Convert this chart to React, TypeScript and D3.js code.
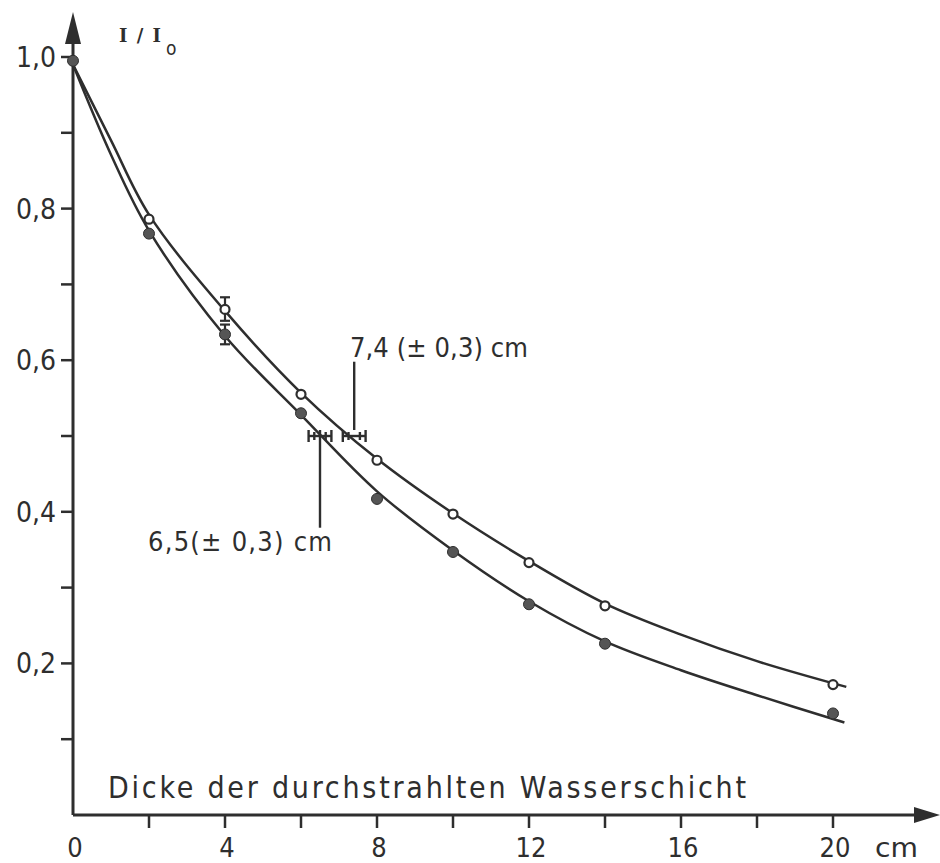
import React from 'react';
import * as d3 from 'd3';

// measured points (open = upper curve, filled = lower curve)
const openX = [2, 4, 6, 8, 10, 12, 14, 20];
const openY = [0.786, 0.667, 0.555, 0.468, 0.397, 0.333, 0.276, 0.172];
const filledX = [0, 2, 4, 6, 8, 10, 12, 14, 20];
const filledY = [0.995, 0.767, 0.634, 0.53, 0.417, 0.347, 0.278, 0.226, 0.134];

// drawn curves
const upperX = [0, 1, 2, 4, 6, 8, 10, 12, 14, 16, 18, 20.35];
const upperY = [0.99, 0.89, 0.792, 0.665, 0.557, 0.47, 0.398, 0.335, 0.279, 0.238, 0.203, 0.169];
const lowerX = [0, 1, 2, 4, 6, 8, 10, 12, 14, 16, 18, 20.3];
const lowerY = [0.99, 0.871, 0.771, 0.632, 0.528, 0.427, 0.349, 0.282, 0.229, 0.191, 0.158, 0.122];

// vertical error bars at x = 4
const vErrX = [4, 4];
const vErrLo = [0.652, 0.621];
const vErrHi = [0.683, 0.647];

// half-value thickness markers
const halfCenters = [6.5, 7.4];
const halfErr = [0.3, 0.3];
const halfLevel = 0.5;
const halfLabels = ['6,5(± 0,3) cm', '7,4 (± 0,3) cm'];
const halfLeaderTo = [0.379, 0.598];

const xTicks = [2, 4, 6, 8, 10, 12, 14, 16, 18, 20];
const xLabels = ['0', '4', '8', '12', '16', '20'];
const yTicks = [0.1, 0.2, 0.3, 0.4, 0.5, 0.6, 0.7, 0.8, 0.9, 1.0];
const yLabels = ['0,2', '0,4', '0,6', '0,8', '1,0'];

const INK = '#2e2e2e';
const FONT = "'DejaVu Sans Condensed', 'DejaVu Sans', sans-serif";

export default function App() {
  const x = d3.scaleLinear().domain([0, 20]).range([73, 833]);
  const y = d3.scaleLinear().domain([0, 1]).range([815, 57]);

  const line = d3.line<[number, number]>()
    .x(d => x(d[0]))
    .y(d => y(d[1]))
    .curve(d3.curveCatmullRom.alpha(0.5));

  const upper = line(upperX.map((v, i) => [v, upperY[i]]) as [number, number][]) || '';
  const lower = line(lowerX.map((v, i) => [v, lowerY[i]]) as [number, number][]) || '';

  const x0 = x(0);
  const y0 = y(0);

  return (
    <svg width={940} height={863} style={{ position: 'absolute', left: 0, top: 0, background: '#fff' }}
      fontFamily={FONT} fill={INK}>
      {/* axes */}
      <line x1={x0} y1={y0} x2={x0} y2={40} stroke={INK} strokeWidth={3} />
      <polygon points={`${x0},12 ${x0 - 8},44 ${x0 + 8},44`} fill={INK} />
      <line x1={x0} y1={y0} x2={918} y2={y0} stroke={INK} strokeWidth={3} />
      <polygon points={`940,${y0} 914,${y0 - 8} 914,${y0 + 8}`} fill={INK} />

      {yTicks.map(t => (
        <line key={'yt' + t} x1={x0 - 12} x2={x0} y1={y(t)} y2={y(t)} stroke={INK} strokeWidth={2.5} />
      ))}
      {yLabels.map((l, i) => (
        <text key={'yl' + l} x={56} y={y(0.2 * (i + 1)) + 10} textAnchor="end" fontSize={28}>{l}</text>
      ))}
      {xTicks.map(t => (
        <line key={'xt' + t} x1={x(t)} x2={x(t)} y1={y0} y2={y0 + 13} stroke={INK} strokeWidth={2.5} />
      ))}
      {xLabels.map(l => (
        <text key={'xl' + l} x={x(+l) + 2} y={857} textAnchor="middle" fontSize={27}>{l}</text>
      ))}
      <text x={875} y={857} fontSize={27} textLength={43} lengthAdjust="spacingAndGlyphs">cm</text>

      <text x={119} y={42} fontSize={18} fontWeight="bold" fontFamily="'DejaVu Serif', serif"
        textLength={42} lengthAdjust="spacing">I/I</text>
      <text x={166} y={55} fontSize={19}>o</text>

      <text x={108} y={798} fontSize={30} textLength={638} lengthAdjust="spacing">Dicke der durchstrahlten Wasserschicht</text>

      {/* curves */}
      <path d={upper} fill="none" stroke={INK} strokeWidth={2.5} />
      <path d={lower} fill="none" stroke={INK} strokeWidth={2.5} />

      {/* vertical error bars */}
      {vErrX.map((v, i) => (
        <g key={'ve' + i} stroke={INK} strokeWidth={2.2}>
          <line x1={x(v)} x2={x(v)} y1={y(vErrLo[i])} y2={y(vErrHi[i])} />
          <line x1={x(v) - 5} x2={x(v) + 5} y1={y(vErrLo[i])} y2={y(vErrLo[i])} />
          <line x1={x(v) - 5} x2={x(v) + 5} y1={y(vErrHi[i])} y2={y(vErrHi[i])} />
        </g>
      ))}

      {/* points */}
      {filledX.map((v, i) => (
        <circle key={'f' + i} cx={x(v)} cy={y(filledY[i])} r={5.5} fill="#555" stroke={INK} strokeWidth={1} />
      ))}
      {openX.map((v, i) => (
        <circle key={'o' + i} cx={x(v)} cy={y(openY[i])} r={4.5} fill="#fff" stroke={INK} strokeWidth={2.2} />
      ))}

      {/* half-value markers */}
      {halfCenters.map((c, i) => {
        const yy = y(halfLevel);
        const a = x(c - halfErr[i]);
        const b = x(c + halfErr[i]);
        return (
          <g key={'h' + i} stroke={INK} strokeWidth={2.4}>
            <line x1={a} x2={b} y1={yy} y2={yy} />
            <line x1={a} x2={a} y1={yy - 6} y2={yy + 6} />
            <line x1={b} x2={b} y1={yy - 6} y2={yy + 6} />
            <line x1={(a + x(c)) / 2} x2={(a + x(c)) / 2} y1={yy - 4} y2={yy + 4} />
            <line x1={(b + x(c)) / 2} x2={(b + x(c)) / 2} y1={yy - 4} y2={yy + 4} />
            <line x1={x(c)} x2={x(c)} y1={yy - 6} y2={y(halfLeaderTo[i])} />
          </g>
        );
      })}
      <text x={148} y={551} fontSize={27} textLength={184} lengthAdjust="spacing">{halfLabels[0]}</text>
      <text x={350} y={357} fontSize={27} textLength={178} lengthAdjust="spacing">{halfLabels[1]}</text>
    </svg>
  );
}
